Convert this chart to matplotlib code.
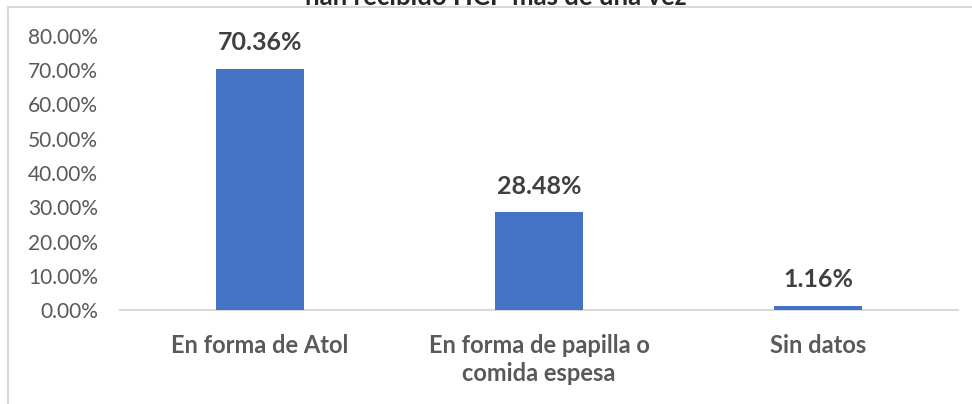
import matplotlib.pyplot as plt
from matplotlib.lines import Line2D

categorias = ['En forma de Atol', 'En forma de papilla o\ncomida espesa', 'Sin datos']
porcentajes = [70.36, 28.48, 1.16]
ticks_y = [0, 10, 20, 30, 40, 50, 60, 70, 80]
titulo = 'han recibido HCP más de una vez'

plt.rcParams['font.family'] = ['Lato', 'DejaVu Sans']

fig = plt.figure(figsize=(9.72, 4.04), dpi=100)
ax = fig.add_axes([120/972, 1-310/404, 838/972, 274/404])

x = range(len(categorias))
ax.bar(x, porcentajes, width=0.315, color='#4472C4', zorder=3)

# etiquetas de datos
for xi, v in zip(x, porcentajes):
    ax.annotate(f'{v:.2f}%', (xi, v), xytext=(0, 19), textcoords='offset points',
                ha='center', va='center', fontsize=18, fontweight='bold', color='#404040')

ax.set_xlim(-0.5, len(categorias) - 0.5)
ax.set_ylim(0, 80)
ax.set_yticks(ticks_y)
ax.set_yticklabels([f'{t:.2f}%' for t in ticks_y], fontsize=15, color='#595959')
ax.set_xticks(list(x))
ax.set_xticklabels(categorias, fontsize=17, fontweight='bold', color='#595959', linespacing=1.3)
ax.tick_params(axis='both', length=0)
ax.tick_params(axis='y', pad=16)
ax.tick_params(axis='x', pad=17)

for s in ['top', 'right', 'left']:
    ax.spines[s].set_visible(False)
ax.spines['bottom'].set_color('#d9d9d9')
ax.spines['bottom'].set_linewidth(1.5)

# borde del cuadro del gráfico (recortado)
fig.add_artist(Line2D([8/972, 8/972], [0, 1-7/404], transform=fig.transFigure, color='#d9d9d9', lw=1.5))
fig.add_artist(Line2D([8/972, 1], [1-7/404, 1-7/404], transform=fig.transFigure, color='#d9d9d9', lw=1.5))

# título cortado en la parte superior
fig.text(496/972, 1-4.7/404, titulo, ha='center', va='baseline', fontsize=18.5,
         fontweight='bold', color='#262626')

fig.savefig('out.png', dpi=100)
